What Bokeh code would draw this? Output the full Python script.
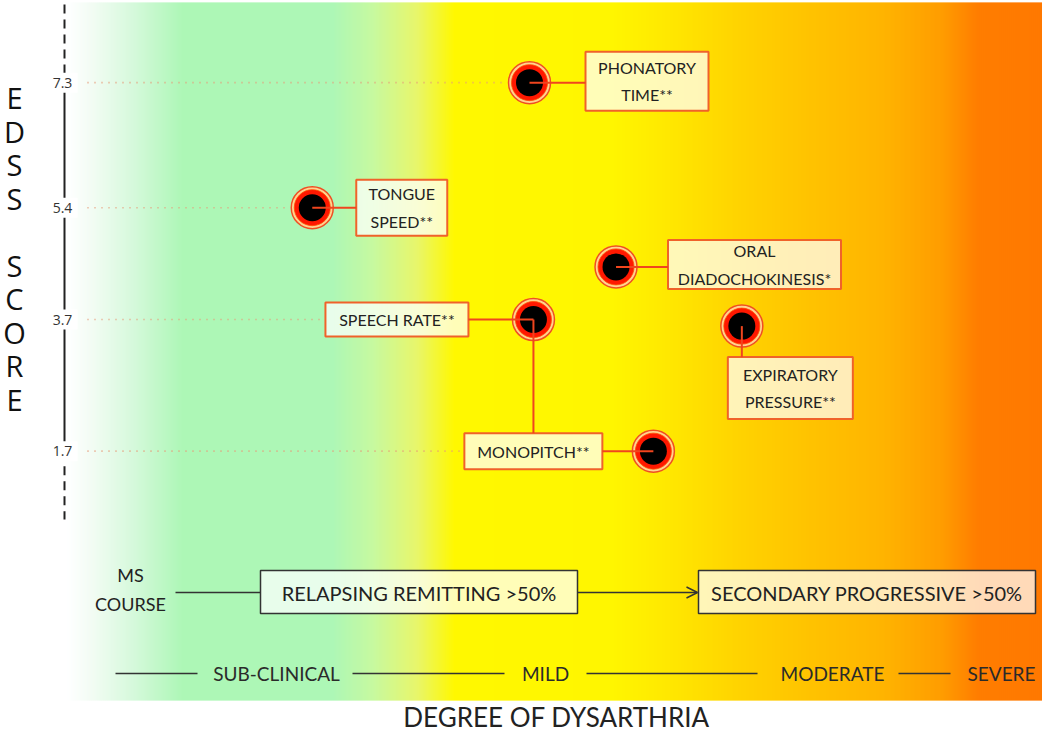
import numpy as np
from bokeh.plotting import figure
from bokeh.models import Range1d, ColumnDataSource, Arrow, OpenHead
from bokeh.core.properties import value
from bokeh.embed import file_html
from bokeh.resources import INLINE

# ---------------- data ----------------
measures = ["PHONATORY\nTIME**", "TONGUE\nSPEED**", "ORAL\nDIADOCHOKINESIS*",
            "SPEECH RATE**", "EXPIRATORY\nPRESSURE**", "MONOPITCH**"]
dysarthria_degree = [47.0, 24.9, 55.8, 47.4, 68.6, 59.6]   # 0 = none ... 100 = severe
edss_score = [7.3, 5.4, 4.5, 3.7, 3.6, 1.7]
edss_ticks = [7.3, 5.4, 3.7, 1.7]
edss_tick_labels = ["7.3", "5.4", "3.7", "1.7"]
ms_course_stages = ["RELAPSING REMITTING >50%", "SECONDARY PROGRESSIVE >50%"]
degree_labels = ["SUB-CLINICAL", "MILD", "MODERATE", "SEVERE"]

# ---------------- layout helpers (reference-pixel based) ----------------
W, H = 1042, 733
OFF = 8
PX_X = 9.83      # px per degree unit
PX_Y = 65.8      # px per EDSS unit


def rx(px):
    return (px - 75) / PX_X


def ry(py):
    return 4.525 + (272.75 - py) / PX_Y


def ox(px):
    return px / PX_X


def oy(px):
    return -px / PX_Y


p = figure(width=W, height=H, output_backend="svg", toolbar_location=None,
           x_range=Range1d(rx(OFF), rx(OFF + W)), y_range=Range1d(ry(OFF + H), ry(OFF)),
           x_axis_location=None, y_axis_location=None, min_border=0,
           background_fill_color="white", border_fill_color="white")
p.outline_line_color = None
p.grid.visible = False

# ---------------- gradient background ----------------
stops_px = [75, 100, 140, 190, 340, 380, 425, 462, 620, 690, 750, 820, 890, 950, 985, 1060]
stops_col = ["#ffffff", "#f2fcf3", "#d6f9dc", "#adf7b6", "#adf7b6", "#c6f9a0", "#e8f66a",
             "#fff800", "#fff600", "#ffe400", "#ffd200", "#ffc200", "#ffb400", "#ff9c00",
             "#ff7d00", "#ff7800"]
rgb = np.array([[int(c[i:i + 2], 16) for i in (1, 3, 5)] for c in stops_col], dtype=float)
xs = np.arange(75, 1052, 2)
cols = []
for x in xs:
    r, g, b = (np.interp(x + 1, stops_px, rgb[:, k]) for k in range(3))
    cols.append("#%02x%02x%02x" % (int(round(r)), int(round(g)), int(round(b))))
p.quad(left=[rx(x) for x in xs], right=[rx(x + 3) for x in xs],
       top=ry(10), bottom=ry(708), fill_color=cols, line_color=None)

# ---------------- y axis ----------------
axis_x = rx(72)
p.segment(x0=[axis_x], y0=[ry(12)], x1=[axis_x], y1=[edss_ticks[0]],
          line_color="#222222", line_width=2, line_dash="9 6")
p.segment(x0=[axis_x], y0=[edss_ticks[0]], x1=[axis_x], y1=[edss_ticks[-1]],
          line_color="#222222", line_width=2)
p.segment(x0=[axis_x], y0=[edss_ticks[-1]], x1=[axis_x], y1=[ry(527)],
          line_color="#222222", line_width=2, line_dash="9 6")

# callout layout: box centre offset (px, y down), box w, h, connector
pt_r = 21
callout_layout = [
    (117.5, -1.5, 123, 59, "h"),
    (89.5, 0, 91, 56, "h"),
    (138.5, -2.5, 173, 49, "h"),
    (-136.5, 0, 143, 34, "h"),
    (48.5, 62, 125, 62, "v"),
    (-120, 0, 138, 36, "h"),
]
bx = [d + ox(l[0]) for d, l in zip(dysarthria_degree, callout_layout)]
by = [e + oy(l[1]) for e, l in zip(edss_score, callout_layout)]
bw = [ox(l[2]) for l in callout_layout]
bh = [l[3] / PX_Y for l in callout_layout]

# dotted guides from axis to the first element on each tick level
g_x0, g_x1, g_y = [], [], []
for t in edss_ticks:
    ends = []
    for i, e in enumerate(edss_score):
        if e == t:
            ends.append(dysarthria_degree[i] - ox(pt_r + 2))
        if abs(by[i] - t) < 1e-9:
            ends.append(bx[i] - bw[i] / 2)
    g_x0.append(rx(95))
    g_x1.append(min(ends))
    g_y.append(t)
p.segment(x0=g_x0, y0=g_y, x1=g_x1, y1=g_y, line_color="#e79a78",
          line_width=1.6, line_dash="1 6")

# tick labels with white background
p.rect(x=[rx(70)] * len(edss_ticks), y=edss_ticks, width=ox(30), height=20 / PX_Y,
       fill_color="white", line_color=None)
p.text(x=[rx(70)] * len(edss_ticks), y=edss_ticks, text=edss_tick_labels,
       text_font=value("Open Sans"), text_font_size="14px", text_color="#333333",
       text_align="center", text_baseline="middle")

# EDSS SCORE stacked title
title_txt = "EDSS SCORE"
lx, ly, lt = [], [], []
for i, ch in enumerate(title_txt):
    if ch != " ":
        lx.append(rx(22))
        ly.append(ry(105 + i * 33.5))
        lt.append(ch)
p.text(x=lx, y=ly, text=lt, text_font=value("Open Sans"), text_font_size="29px",
       text_color="#111111", text_align="center", text_baseline="middle")

# ---------------- callout boxes ----------------
p.rect(x=bx, y=by, width=bw, height=bh, fill_color="white", fill_alpha=0.72,
       line_color="#f0622a", line_width=2)
p.text(x=bx, y=by, text=measures, text_font=value("Lato"), text_font_size="16px",
       text_color="#222222", text_align="center", text_baseline="middle",
       text_line_height=1.45)

# ---------------- points ----------------
src = ColumnDataSource(dict(x=dysarthria_degree, y=edss_score))
p.scatter("x", "y", source=src, size=42, fill_color="#ffd38f", line_color="#f04e23", line_width=1.5)
p.scatter("x", "y", source=src, size=36, fill_color="#ff1800", line_color="#ff4a00", line_width=0.8)
p.scatter("x", "y", source=src, size=27, fill_color="#000000", line_color=None)

# connectors
cx0, cy0, cx1, cy1 = [], [], [], []
for i, l in enumerate(callout_layout):
    x, y = dysarthria_degree[i], edss_score[i]
    if l[4] == "h":
        edge = bx[i] - bw[i] / 2 if l[0] > 0 else bx[i] + bw[i] / 2
        cx0.append(x); cy0.append(y); cx1.append(edge); cy1.append(y)
    else:
        cx0.append(x); cy0.append(y); cx1.append(x); cy1.append(by[i] + bh[i] / 2)
# speech rate -> monopitch link
cx0.append(dysarthria_degree[3]); cy0.append(edss_score[3])
cx1.append(dysarthria_degree[3]); cy1.append(by[5] + bh[5] / 2)
p.segment(x0=cx0, y0=cy0, x1=cx1, y1=cy1, line_color="#f0451e", line_width=2)

# ---------------- MS course row ----------------
p.text(x=[rx(138)], y=[ry(597)], text=["MS\nCOURSE"], text_font=value("Lato"),
       text_font_size="18px", text_color="#222222", text_align="center",
       text_baseline="middle", text_line_height=1.35)
p.segment(x0=[rx(183)], y0=[ry(600)], x1=[rx(268)], y1=[ry(600)],
          line_color="#333333", line_width=1.5)
cb_left = [rx(268), rx(706)]
cb_right = [rx(585), rx(1043)]
p.quad(left=cb_left, right=cb_right, top=ry(578), bottom=ry(621),
       fill_color="white", fill_alpha=0.72, line_color="#333333", line_width=1.5)
p.text(x=[(a + b) / 2 for a, b in zip(cb_left, cb_right)], y=[ry(600)] * 2,
       text=ms_course_stages, text_font=value("Lato"), text_font_size="20px",
       text_color="#222222", text_align="center", text_baseline="middle")
p.add_layout(Arrow(end=OpenHead(size=11, line_color="#333333", line_width=1.5),
                   x_start=rx(585), y_start=ry(600), x_end=rx(705), y_end=ry(600),
                   line_color="#333333", line_width=1.5))

# ---------------- degree row ----------------
seg_l = [123, 360, 594, 906]
seg_r = [205, 512, 765, 958]
lab_c = [284, 553, 840, 1009]
p.segment(x0=[rx(v) for v in seg_l], y0=[ry(681)] * 4, x1=[rx(v) for v in seg_r],
          y1=[ry(681)] * 4, line_color="#333333", line_width=1.5)
p.text(x=[rx(v) for v in lab_c], y=[ry(681)] * 4, text=degree_labels,
       text_font=value("Lato"), text_font_size="19px", text_color="#2a2a2a",
       text_align="center", text_baseline="middle")

p.text(x=[rx(564)], y=[ry(724)], text=["DEGREE OF DYSARTHRIA"], text_font=value("Lato"),
       text_font_size="26px", text_color="#222222", text_align="center",
       text_baseline="middle")

open("out.html", "w").write(file_html(p, INLINE))
